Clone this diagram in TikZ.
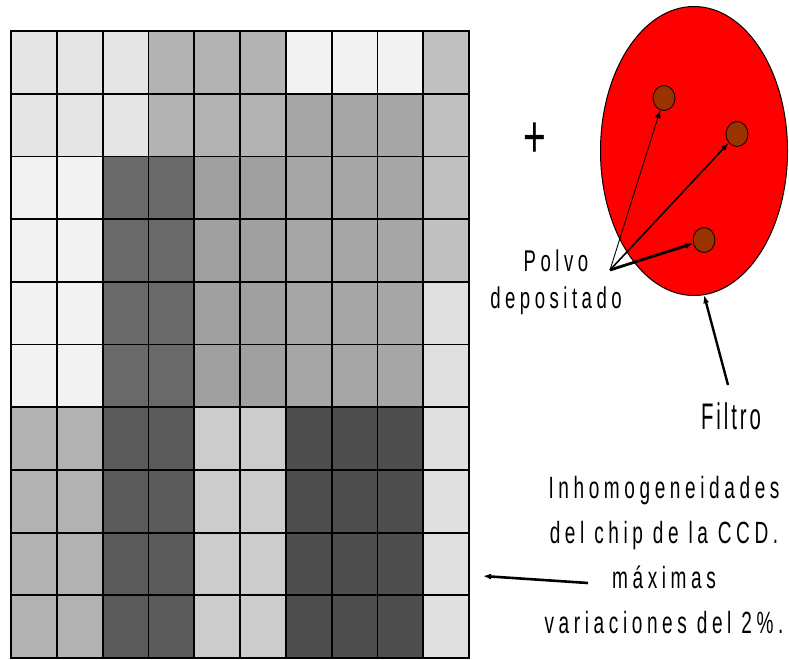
\documentclass[tikz,border=0pt]{standalone}
\usepackage{fontspec}
\setmainfont{Liberation Sans}
\newfontfamily\lbl[FakeStretch=0.62,LetterSpace=15]{Liberation Sans}
\newfontfamily\lblnarrow[FakeStretch=0.55,LetterSpace=8]{Liberation Sans}
\newfontfamily\plusfont[FakeStretch=0.65]{Liberation Sans}
\usetikzlibrary{shapes.geometric, arrows.meta}

\definecolor{pxA}{HTML}{E5E5E5}
\definecolor{pxB}{HTML}{B3B3B3}
\definecolor{pxC}{HTML}{F2F2F2}
\definecolor{pxD}{HTML}{C0C0C0}
\definecolor{pxE}{HTML}{A6A6A6}
\definecolor{pxF}{HTML}{696969}
\definecolor{pxG}{HTML}{A0A0A0}
\definecolor{pxH}{HTML}{E0E0E0}
\definecolor{pxI}{HTML}{5A5A5A}
\definecolor{pxJ}{HTML}{CCCCCC}
\definecolor{pxK}{HTML}{4D4D4D}
\definecolor{dustbrown}{HTML}{993300}

\begin{document}
\begin{tikzpicture}[
    x=1pt, y=-1pt,
    pixel/.style={
        draw=black,
        line width=1.8pt
    },
    dust/.style={
        ellipse,
        draw=black,
        fill=dustbrown,
        line width=0.8pt,
        minimum width=22pt,
        minimum height=25pt,
        inner sep=0pt
    },
    txt/.style={
        align=center,
        inner sep=0pt,
        anchor=north
    },
    ptr/.style={
        -{Latex[length=8pt, width=6pt]},
        draw=black
    }
]
    \useasboundingbox (0,0) rectangle (789,659);

    % chip de la CCD, 10 x 10 pixeles
    \foreach \r/\cols in {
        0/{pxA,pxA,pxA,pxB,pxB,pxB,pxC,pxC,pxC,pxD},
        1/{pxA,pxA,pxA,pxB,pxB,pxB,pxE,pxE,pxE,pxD},
        2/{pxC,pxC,pxF,pxF,pxG,pxG,pxE,pxE,pxE,pxD},
        3/{pxC,pxC,pxF,pxF,pxG,pxG,pxE,pxE,pxE,pxD},
        4/{pxC,pxC,pxF,pxF,pxG,pxG,pxE,pxE,pxE,pxH},
        5/{pxC,pxC,pxF,pxF,pxG,pxG,pxE,pxE,pxE,pxH},
        6/{pxB,pxB,pxI,pxI,pxJ,pxJ,pxK,pxK,pxK,pxH},
        7/{pxB,pxB,pxI,pxI,pxJ,pxJ,pxK,pxK,pxK,pxH},
        8/{pxB,pxB,pxI,pxI,pxJ,pxJ,pxK,pxK,pxK,pxH},
        9/{pxB,pxB,pxI,pxI,pxJ,pxJ,pxK,pxK,pxK,pxH}}
        \foreach \c [count=\i from 0] in \cols
            \filldraw [pixel, fill=\c] ({11+45.8*\i},{31+62.7*\r}) rectangle +(45.8,62.7);

    % filtro con polvo
    \node [ellipse, draw=black, fill=red, line width=1pt, minimum width=187pt,
           minimum height=289pt, inner sep=0pt] (filtro) at (694,151) {};
    \node [dust] (d1) at (664,98) {};
    \node [dust] (d2) at (737,134) {};
    \node [dust] (d3) at (704,240) {};

    \node [font=\plusfont\fontsize{60}{60}\selectfont, inner sep=0pt] (plus) at (535,140) {+};

    \node [txt, font=\lbl\fontsize{30}{37}\selectfont] (polvo) at (556,250) {Polvo\\depositado};
    \coordinate (pv) at (610,270);
    \draw [ptr, line width=0.9pt] (pv) -- (d1);
    \draw [ptr, line width=1.6pt] (pv) -- (d2);
    \draw [ptr, line width=2.8pt] (pv) -- (d3);

    \node [txt, font=\lblnarrow\fontsize{37}{40}\selectfont] (ftxt) at (731,402) {Filtro};
    \draw [ptr, line width=2.4pt] ([xshift=-3pt, yshift=17pt]ftxt.north) -- (filtro.-86);

    \node [txt, font=\lbl\fontsize{30.7}{45}\selectfont] (ccd) at (664,476)
        {Inhomogeneidades\\del chip de la CCD.\\máximas\\variaciones del 2\%.};
    \coordinate (ccdtail) at (588,583);
    \coordinate (chipside) at (483,576);
    \draw [ptr, line width=2.6pt] (ccdtail) -- (chipside);
\end{tikzpicture}
\end{document}
